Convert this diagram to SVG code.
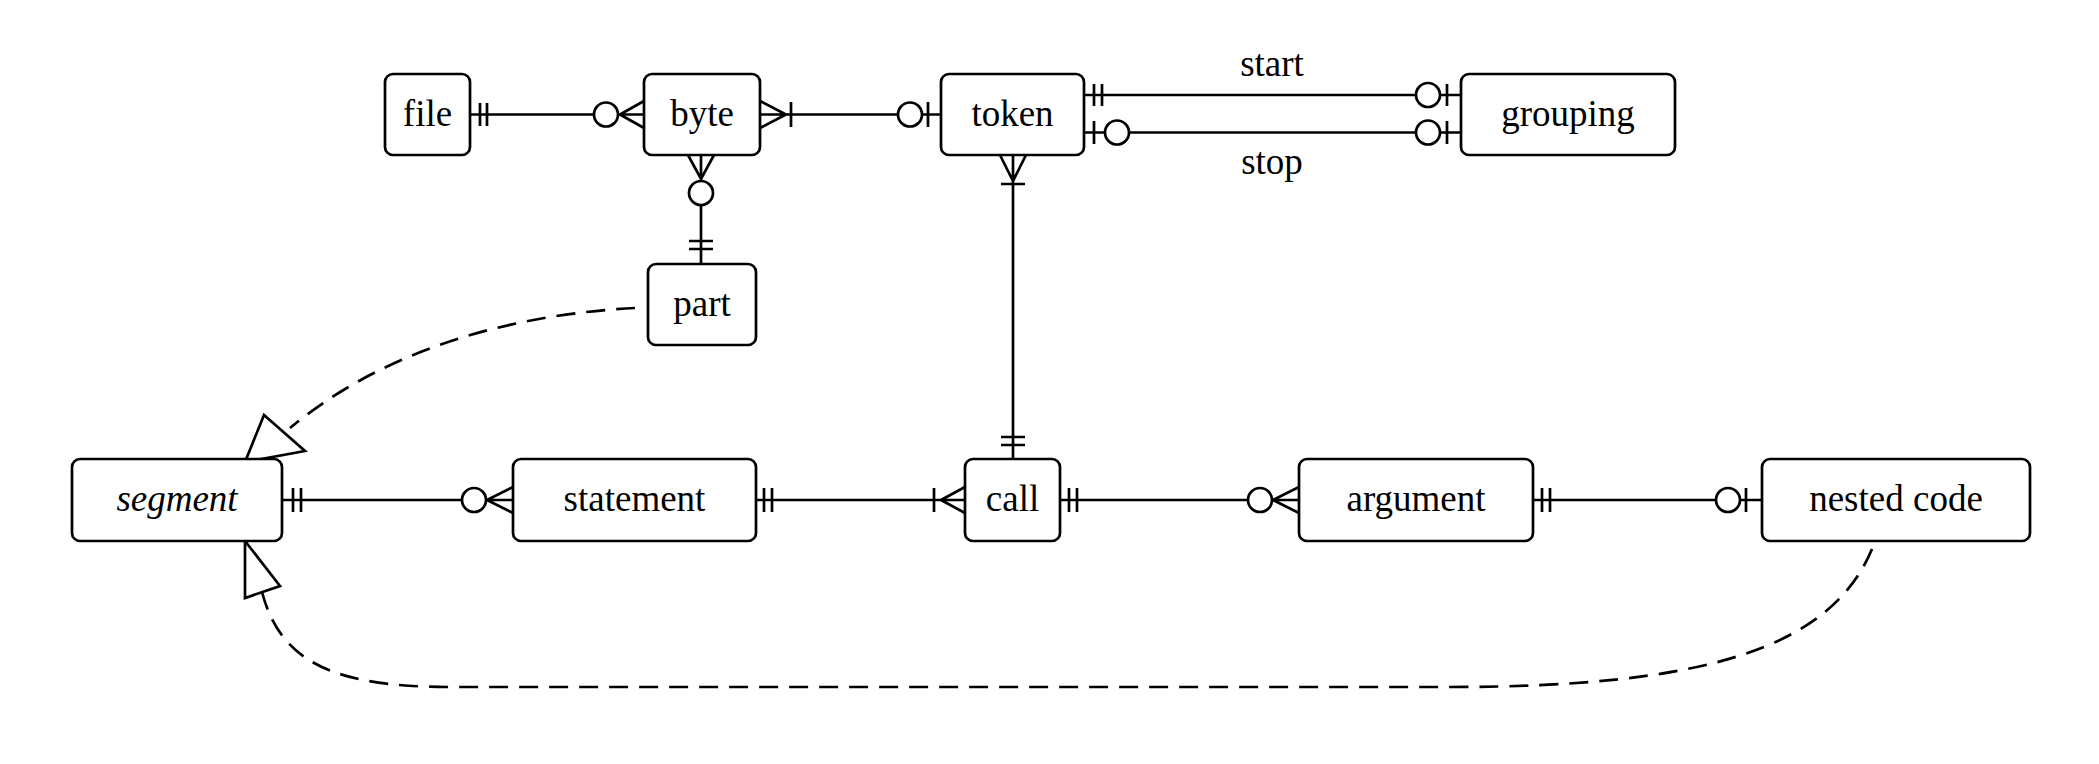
<svg xmlns="http://www.w3.org/2000/svg" width="2099" height="764" viewBox="0 0 2099 764">
<style>
.b{fill:#fff;stroke:#000;stroke-width:2.7}
.t{font-family:"Liberation Serif","DejaVu Serif",serif;font-size:37px;text-anchor:middle;fill:#000}
.l{fill:none;stroke:#000;stroke-width:2.7}
.c{fill:#fff;stroke:#000;stroke-width:2.7}
.d{fill:none;stroke:#000;stroke-width:2.7;stroke-dasharray:19 11}
.a{fill:#fff;stroke:#000;stroke-width:2.7;stroke-linejoin:miter}
</style>
<rect width="2099" height="764" fill="#fff"/>
<g id="connectors">
<!-- file - byte -->
<path class="l" d="M470,114.5H644M480,103v23M487,103v23M620,114.5L644,101M620,114.5L644,128"/>
<circle class="c" cx="606" cy="114.5" r="12"/>
<!-- byte - token -->
<path class="l" d="M760,114.5H941M760,101L786,114.5L760,128M791,102v25M928,102v25"/>
<circle class="c" cx="910" cy="114.5" r="12"/>
<!-- token - grouping start -->
<path class="l" d="M1084,95H1461M1094,84v22M1102,84v22M1447,84v22"/>
<circle class="c" cx="1428" cy="95" r="12"/>
<text class="t" x="1272" y="76">start</text>
<!-- token - grouping stop -->
<path class="l" d="M1084,132.5H1461M1094,121v23M1447,121v23"/>
<circle class="c" cx="1117" cy="132.5" r="12"/>
<circle class="c" cx="1428" cy="132.5" r="12"/>
<text class="t" x="1272" y="174">stop</text>
<!-- byte - part -->
<path class="l" d="M701,155V264M688,155L701,179L714,155M689,241h24M689,249h24"/>
<circle class="c" cx="701" cy="193" r="12"/>
<!-- token - call -->
<path class="l" d="M1013,155V459M1000,155L1013,181L1026,155M1001,184h24M1001,437h24M1001,445h24"/>
<!-- segment - statement -->
<path class="l" d="M282,500H513M293,488v24M301,488v24M487,500L513,487M487,500L513,513"/>
<circle class="c" cx="474" cy="500" r="12"/>
<!-- statement - call -->
<path class="l" d="M756,500H965M764,488v24M772,488v24M934,488v24M941,500L965,487M941,500L965,513"/>
<!-- call - argument -->
<path class="l" d="M1060,500H1299M1069,488v24M1077,488v24M1273,500L1299,487M1273,500L1299,513"/>
<circle class="c" cx="1260" cy="500" r="12"/>
<!-- argument - nested code -->
<path class="l" d="M1533,500H1762M1542,488v24M1550,488v24M1746,488v24"/>
<circle class="c" cx="1728" cy="500" r="12"/>
<!-- part -> segment -->
<path class="d" d="M635,308C520,314 390,345 290,428"/>
<path class="a" d="M245,462L264,415L305,451Z"/>
<!-- nested code -> segment -->
<path class="d" d="M1872,549C1830,650 1700,687 1450,687L450,687C330,687 280,660 262,592"/>
<path class="a" d="M245,541L280,586L245,598Z"/>
</g>
<g id="file"><rect class="b" x="385" y="74" width="85" height="81" rx="8"/><text class="t" x="427.5" y="126">file</text></g>
<g id="byte"><rect class="b" x="644" y="74" width="116" height="81" rx="8"/><text class="t" x="702" y="126">byte</text></g>
<g id="token"><rect class="b" x="941" y="74" width="143" height="81" rx="8"/><text class="t" x="1012.5" y="126">token</text></g>
<g id="grouping"><rect class="b" x="1461" y="74" width="214" height="81" rx="8"/><text class="t" x="1568" y="126">grouping</text></g>
<g id="part"><rect class="b" x="648" y="264" width="108" height="81" rx="8"/><text class="t" x="702" y="316">part</text></g>
<g id="segment"><rect class="b" x="72" y="459" width="210" height="82" rx="8"/><text class="t" x="177" y="511" font-style="italic">segment</text></g>
<g id="statement"><rect class="b" x="513" y="459" width="243" height="82" rx="8"/><text class="t" x="634.5" y="511">statement</text></g>
<g id="call"><rect class="b" x="965" y="459" width="95" height="82" rx="8"/><text class="t" x="1012.5" y="511">call</text></g>
<g id="argument"><rect class="b" x="1299" y="459" width="234" height="82" rx="8"/><text class="t" x="1416" y="511">argument</text></g>
<g id="nested_code"><rect class="b" x="1762" y="459" width="268" height="82" rx="8"/><text class="t" x="1896" y="511">nested code</text></g>
</svg>
